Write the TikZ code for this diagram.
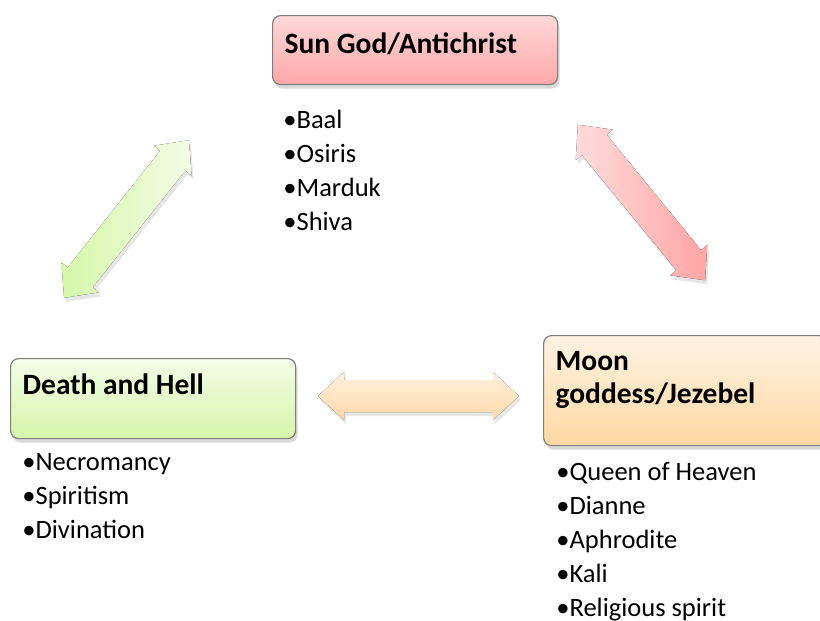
\documentclass[tikz,border=0pt]{standalone}
\usepackage{fontspec}
\setmainfont{Carlito}
\usetikzlibrary{shadows}

\definecolor{boxline}{HTML}{7F7F7F}
\definecolor{sunTop}{HTML}{FFD8D8}
\definecolor{sunBottom}{HTML}{FFA8A8}
\definecolor{deathTop}{HTML}{F4FDE8}
\definecolor{deathBottom}{HTML}{D5F5AA}
\definecolor{moonTop}{HTML}{FFF3E3}
\definecolor{moonBottom}{HTML}{FFD8A3}
\definecolor{greenHigh}{HTML}{F2FDE6}
\definecolor{greenLow}{HTML}{D6F7AA}
\definecolor{pinkHigh}{HTML}{FFDCDC}
\definecolor{pinkLow}{HTML}{FFA4A4}
\definecolor{orangeHigh}{HTML}{FFF0DE}
\definecolor{orangeLow}{HTML}{FFD9AA}

\begin{document}
\begin{tikzpicture}[x=0.5pt,y=-0.5pt,
    titlebox/.style={draw=boxline, line width=0.6pt, rounded corners=4pt,
        anchor=north west, align=flush left, inner xsep=6pt, inner ysep=0pt,
        font=\fontsize{14.75}{16.5}\selectfont\bfseries,
        drop shadow={shadow xshift=1pt, shadow yshift=-2pt, opacity=0.3}},
    itemlist/.style={anchor=north west, align=left, inner sep=0pt,
        font=\fontsize{13.25}{17}\selectfont},
    blockarrow/.style={draw=none,
        drop shadow={shadow xshift=1pt, shadow yshift=-2pt, opacity=0.2}}]

    \useasboundingbox (0,0) rectangle (820,621);

    % Sun god box and list
    \node[titlebox, text width=130.5pt, top color=sunTop, bottom color=sunBottom,
        text height=19pt, text depth=15.5pt] (sun) at (272,15) {Sun God/Antichrist};
    \node[itemlist] (sunList) at (283,110)
        {\textbullet Baal\\ \textbullet Osiris\\ \textbullet Marduk\\ \textbullet Shiva};

    % Death and hell box and list
    \node[titlebox, text width=130.5pt, top color=deathTop, bottom color=deathBottom,
        text height=18pt, text depth=22pt] (death) at (10,358) {Death and Hell};
    \node[itemlist] (deathList) at (22,453)
        {\textbullet Necromancy\\ \textbullet Spiritism\\ \textbullet Divination};

    % Moon goddess box and list
    \node[titlebox, text width=129.5pt, top color=moonTop, bottom color=moonBottom,
        text height=17.5pt, text depth=37.5pt] (moon) at (543,335) {Moon\\ goddess/Jezebel};
    \node[itemlist] (moonList) at (556,462)
        {\textbullet Queen of Heaven\\ \textbullet Dianne\\ \textbullet Aphrodite\\
         \textbullet Kali\\ \textbullet Religious spirit};

    % Arrow between death and sun
    \begin{scope}[shift={(126.5,219)}, rotate=51.6]
        \fill[blockarrow, left color=greenLow, right color=greenHigh]
            (-100.5,0) -- (-74.5,-24) -- (-74.5,-16) -- (74.5,-16) -- (74.5,-24)
            -- (100.5,0) -- (74.5,24) -- (74.5,16) -- (-74.5,16) -- (-74.5,24) -- cycle;
    \end{scope}

    % Arrow between sun and moon
    \begin{scope}[shift={(641.5,202.5)}, rotate=-50.7]
        \fill[blockarrow, left color=pinkHigh, right color=pinkLow]
            (-100.5,0) -- (-74.5,-24) -- (-74.5,-16) -- (74.5,-16) -- (74.5,-24)
            -- (100.5,0) -- (74.5,24) -- (74.5,16) -- (-74.5,16) -- (-74.5,24) -- cycle;
    \end{scope}

    % Arrow between death and moon
    \begin{scope}[shift={(418.5,396)}]
        \fill[blockarrow, top color=orangeHigh, bottom color=orangeLow]
            (-100.5,0) -- (-74.5,-24) -- (-74.5,-16) -- (74.5,-16) -- (74.5,-24)
            -- (100.5,0) -- (74.5,24) -- (74.5,16) -- (-74.5,16) -- (-74.5,24) -- cycle;
    \end{scope}
\end{tikzpicture}
\end{document}
